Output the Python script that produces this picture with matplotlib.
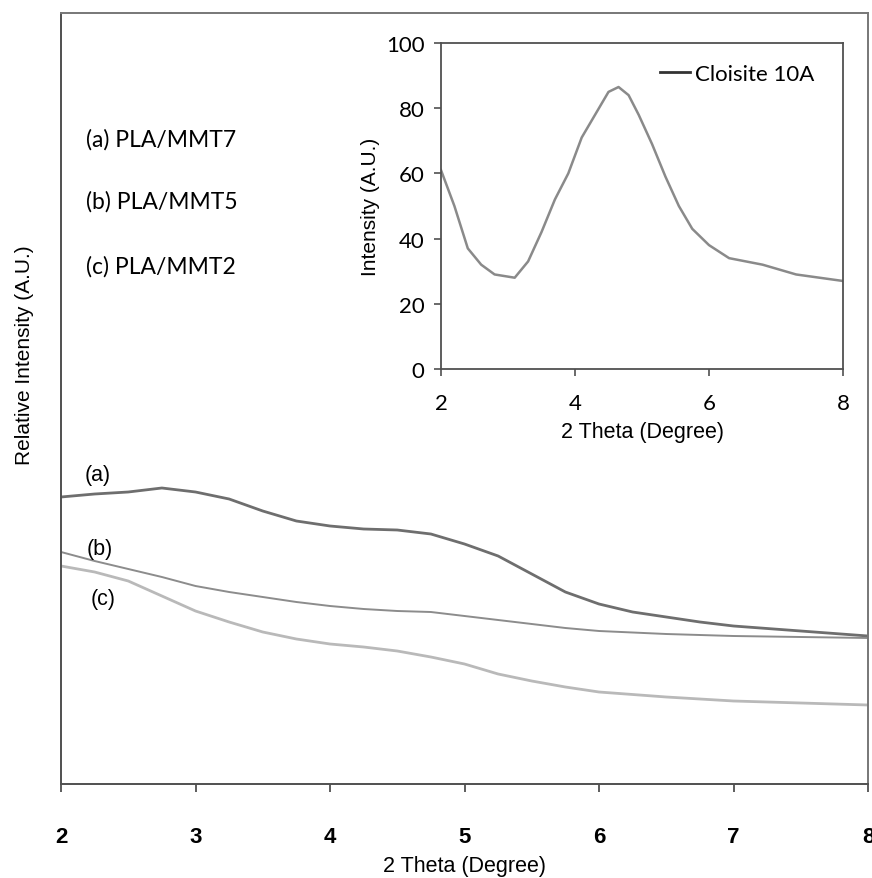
import numpy as np
import matplotlib
matplotlib.use("Agg")
import matplotlib.pyplot as plt

# main XRD patterns (relative intensity, arbitrary units)
x_a = [2, 2.25, 2.5, 2.75, 3, 3.25, 3.5, 3.75, 4, 4.25, 4.5, 4.75, 5, 5.25,
       5.5, 5.75, 6, 6.25, 6.5, 6.75, 7, 7.5, 8]
y_a = [287, 290, 292, 296, 292, 285, 273, 263, 258, 255, 254, 250, 240, 228,
       210, 192, 180, 172, 167, 162, 158, 153, 148]

x_bc = [2, 2.25, 2.5, 2.75, 3, 3.25, 3.5, 3.75, 4, 4.25, 4.5, 4.75, 5, 5.25,
        5.5, 5.75, 6, 6.5, 7, 7.5, 8]
y_b = [232, 223, 215, 207, 198, 192, 187, 182, 178, 175, 173, 172, 168, 164,
       160, 156, 153, 150, 148, 147, 146]
y_c = [218, 212, 203, 188, 173, 162, 152, 145, 140, 137, 133, 127, 120, 110,
       103, 97, 92, 87, 83, 81, 79]

sample_labels = ["(a) PLA/MMT7", "(b) PLA/MMT5", "(c) PLA/MMT2"]
curve_tags = ["(a)", "(b)", "(c)"]

# inset: Cloisite 10A
x_clo = [2, 2.2, 2.4, 2.6, 2.8, 3.1, 3.3, 3.5, 3.7, 3.9, 4.1, 4.3, 4.5, 4.65,
         4.8, 4.95, 5.15, 5.35, 5.55, 5.75, 6.0, 6.3, 6.8, 7.3, 8]
y_clo = [61, 50, 37, 32, 29, 28, 33, 42, 52, 60, 71, 78, 85, 86.5,
         84, 78, 69, 59, 50, 43, 38, 34, 32, 29, 27]

W, H = 872, 879
fig = plt.figure(figsize=(W / 100, H / 100), dpi=100)

arial = ["Liberation Sans", "DejaVu Sans"]
calibri = ["Lato", "DejaVu Sans"]
spine_col = "#505050"

ax = fig.add_axes([61 / W, 1 - 785 / H, (868 - 61) / W, (785 - 14) / H])
ax.plot(x_a, y_a, color="#6e6e6e", lw=2.0)
ax.plot(x_bc, y_b, color="#8c8c8c", lw=1.4)
ax.plot(x_bc, y_c, color="#b9b9b9", lw=2.0)
ax.set_xlim(2, 8)
ax.set_ylim(0, 771)
ax.set_yticks([])
ax.set_xticks([2, 3, 4, 5, 6, 7, 8])
ax.tick_params(axis="x", direction="out", length=6, width=1.3, color=spine_col,
               pad=24, labelsize=16)
for lab in ax.get_xticklabels():
    lab.set_family(arial)
    lab.set_fontweight("bold")
for s in ax.spines.values():
    s.set_color(spine_col)
    s.set_linewidth(1.4)
ax.spines["top"].set_color("#777777")
ax.spines["right"].set_color("#777777")

ax.set_xlabel("2 Theta (Degree)", family=arial, fontsize=15.5, labelpad=6)
fig.text(24 / W, 1 - 355 / H, "Relative Intensity (A.U.)", rotation=90,
         family=arial, fontsize=15, ha="center", va="center")

for lab, yy in zip(sample_labels, [645, 583, 518]):
    ax.text(2.186, yy, lab, family=calibri, fontsize=16.5, ha="left", va="center")
for tag, xx, yy in zip(curve_tags, [2.27, 2.29, 2.31], [310, 235, 185]):
    ax.text(xx, yy, tag, family=arial, fontsize=15.5, ha="center", va="center")

# inset
ins = fig.add_axes([441 / W, 1 - 370 / H, (843 - 441) / W, (370 - 44) / H])
ins.plot(x_clo, y_clo, color="#8a8a8a", lw=1.8)
ins.set_xlim(2, 8)
ins.set_ylim(0, 100)
ins.set_xticks([2, 4, 6, 8])
ins.set_yticks([0, 20, 40, 60, 80, 100])
ins.tick_params(direction="out", length=5, width=1.2, color=spine_col,
                labelsize=16)
ins.tick_params(axis="x", pad=12)
ins.tick_params(axis="y", pad=7)
for lab in ins.get_xticklabels() + ins.get_yticklabels():
    lab.set_family(calibri)
for s in ins.spines.values():
    s.set_color(spine_col)
    s.set_linewidth(1.3)
ins.set_xlabel("2 Theta (Degree)", family=arial, fontsize=15.5, labelpad=6)
ins.set_ylabel("Intensity (A.U.)", family=arial, fontsize=15, labelpad=4)

ins.plot([], [], color="#333333", lw=2, label="Cloisite 10A")
leg_handles, leg_labels = ins.get_legend_handles_labels()
ins.legend(leg_handles[-1:], leg_labels[-1:], loc="center left",
           bbox_to_anchor=(0.545, 0.905), frameon=False, borderpad=0,
           borderaxespad=0, prop={"family": calibri, "size": 16},
           handlelength=1.35, handletextpad=0.2)

fig.savefig("out.png", dpi=100)
